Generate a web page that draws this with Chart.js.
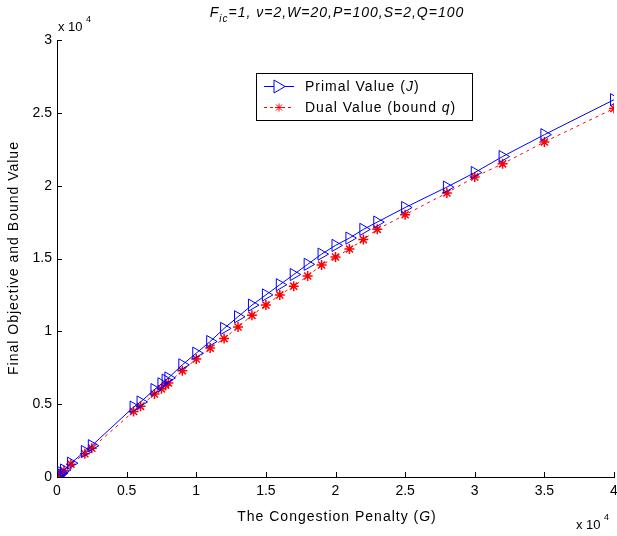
<!DOCTYPE html>
<html>
<head>
<meta charset="utf-8">
<script src="https://cdn.jsdelivr.net/npm/chart.js@4"></script>
<style>
  html, body { margin: 0; background: #fff; overflow: hidden; }
  #wrap { width: 622px; height: 536px; }
</style>
</head>
<body>
<div id="wrap"><canvas id="c"></canvas></div>
<script>
// congestion penalty G and the two final values
const penalty = [0, 100, 200, 300, 500, 1000, 2000, 2500, 5500, 6000, 7000, 7500, 7800, 8000, 9000,
  10000, 11000, 12000, 13000, 14000, 15000, 16000, 17000, 18000, 19000, 20000, 21000, 22000, 23000,
  25000, 28000, 30000, 32000, 35000, 40000];
const primalValue = [0, 100, 195, 290, 480, 950, 1750, 2150, 4800, 5150, 6000, 6400, 6650, 6800, 7700,
  8500, 9300, 10200, 11000, 11800, 12500, 13200, 13900, 14600, 15300, 15900, 16400, 17000, 17500,
  18500, 19900, 20900, 22000, 23500, 25900];
const dualValue = [0, 90, 180, 270, 450, 880, 1600, 1980, 4500, 4850, 5700, 6050, 6300, 6450, 7300,
  8100, 8850, 9500, 10300, 11100, 11800, 12500, 13100, 13800, 14550, 15100, 15650, 16300, 17000,
  18000, 19500, 20600, 21500, 23000, 25300];
const xTicks = [0, 5000, 10000, 15000, 20000, 25000, 30000, 35000, 40000];
const yTicks = [0, 5000, 10000, 15000, 20000, 25000, 30000];

const FONT = '"Liberation Sans", Arial, sans-serif';

function pts(ys) {
  return penalty.map((g, i) => ({ x: g, y: ys[i] }));
}

// draws inward ticks, exponent labels, titles and the legend
const extras = {
  id: 'extras',
  afterDraw(chart) {
    const ctx = chart.ctx;
    const xs = chart.scales.x, ys = chart.scales.y;
    const a = chart.chartArea;
    ctx.save();
    ctx.strokeStyle = '#000';
    ctx.lineWidth = 1;
    ctx.beginPath();
    xTicks.forEach(v => {
      const px = Math.round(xs.getPixelForValue(v)) + 0.5;
      ctx.moveTo(px, a.bottom); ctx.lineTo(px, a.bottom - 5);
    });
    yTicks.forEach(v => {
      const py = Math.round(ys.getPixelForValue(v)) + 0.5;
      ctx.moveTo(a.left, py); ctx.lineTo(a.left + 5, py);
    });
    ctx.stroke();

    ctx.fillStyle = '#000';
    ctx.textBaseline = 'alphabetic';
    ctx.textAlign = 'left';
    // exponents
    ctx.font = '13px ' + FONT;
    ctx.fillText('x 10', 58, 31);
    ctx.fillText('x 10', 576, 529);
    ctx.font = '9px ' + FONT;
    ctx.fillText('4', 86, 22);
    ctx.fillText('4', 604, 520);

    ctx.letterSpacing = '1px';
    function mixed(parts, px, py, size) {
      parts.forEach(([t, it, sz, dy]) => {
        ctx.font = (it ? 'italic ' : '') + (sz || size) + 'px ' + FONT;
        ctx.fillText(t, px, py + (dy || 0));
        px += ctx.measureText(t).width;
      });
      return px;
    }
    function width(parts, size) {
      let w = 0;
      parts.forEach(([t, it, sz]) => {
        ctx.font = (it ? 'italic ' : '') + (sz || size) + 'px ' + FONT;
        w += ctx.measureText(t).width;
      });
      return w;
    }

    // title
    const title = [['F', true], ['ic', true, 10, 5], ['=1, \u03bd=2,W=20,P=100,S=2,Q=100', true]];
    mixed(title, 337 - width(title, 14) / 2, 17, 14);

    // axis titles
    const xTitle = [['The Congestion Penalty (', false], ['G', true], [')', false]];
    mixed(xTitle, 337 - width(xTitle, 14) / 2, 521, 14);

    ctx.save();
    ctx.translate(18, 258);
    ctx.rotate(-Math.PI / 2);
    const yTitle = [['Final Objective and Bound Value', false]];
    mixed(yTitle, -width(yTitle, 14) / 2, 0, 14);
    ctx.restore();

    // legend
    ctx.fillStyle = '#fff';
    ctx.fillRect(256, 73, 216, 47);
    ctx.strokeStyle = '#000';
    ctx.strokeRect(256.5, 73.5, 216, 47);
    // primal entry
    ctx.strokeStyle = '#0000ff';
    ctx.beginPath();
    ctx.moveTo(264, 86.5); ctx.lineTo(294, 86.5);
    ctx.stroke();
    ctx.beginPath();
    ctx.moveTo(274, 80); ctx.lineTo(285, 86.5); ctx.lineTo(274, 93); ctx.closePath();
    ctx.fillStyle = '#fff';
    ctx.fill();
    ctx.stroke();
    // dual entry
    ctx.strokeStyle = '#ff0000';
    ctx.setLineDash([3, 3]);
    ctx.beginPath();
    ctx.moveTo(264, 107.5); ctx.lineTo(294, 107.5);
    ctx.stroke();
    ctx.setLineDash([]);
    ctx.beginPath();
    const cx = 279, cy = 107.5, r = 4;
    ctx.moveTo(cx - r, cy); ctx.lineTo(cx + r, cy);
    ctx.moveTo(cx, cy - r); ctx.lineTo(cx, cy + r);
    ctx.moveTo(cx - 3, cy - 3); ctx.lineTo(cx + 3, cy + 3);
    ctx.moveTo(cx - 3, cy + 3); ctx.lineTo(cx + 3, cy - 3);
    ctx.stroke();

    ctx.fillStyle = '#000';
    mixed([['Primal Value (', false], ['J', true], [')', false]], 305, 91, 14);
    mixed([['Dual Value (bound ', false], ['q', true], [')', false]], 305, 112, 14);
    ctx.restore();
  }
};

new Chart(document.getElementById('c'), {
  type: 'scatter',
  data: {
    datasets: [
      {
        label: 'Primal Value (J)',
        data: pts(primalValue),
        showLine: true,
        borderColor: '#0000ff',
        borderWidth: 1,
        pointStyle: 'triangle',
        rotation: 90,
        pointRadius: 7,
        pointBorderColor: '#0000ff',
        pointBackgroundColor: 'rgba(0,0,0,0)',
        pointBorderWidth: 1
      },
      {
        label: 'Dual Value (bound q)',
        data: pts(dualValue),
        showLine: true,
        borderColor: '#ff0000',
        borderWidth: 1,
        borderDash: [3, 4],
        pointStyle: 'star',
        pointRadius: 5,
        pointBorderColor: '#ff0000',
        pointBackgroundColor: '#ff0000',
        pointBorderWidth: 1.5
      }
    ]
  },
  options: {
    responsive: true,
    maintainAspectRatio: false,
    animation: false,
    layout: { padding: { top: 40, right: 3, left: 0, bottom: 0 } },
    plugins: { legend: { display: false }, tooltip: { enabled: false } },
    scales: {
      x: {
        type: 'linear',
        min: 0, max: 40000,
        afterBuildTicks: s => { s.ticks = xTicks.map(v => ({ value: v })); },
        afterFit: s => { s.height = 59; s.paddingLeft = 0; s.paddingRight = 0; },
        grid: { display: false, drawTicks: false },
        border: { display: true, color: '#000', width: 1 },
        ticks: {
          color: '#000', padding: 6, maxRotation: 0,
          font: { family: FONT, size: 14 },
          callback: v => v / 10000
        }
      },
      y: {
        type: 'linear',
        min: 0, max: 30000,
        afterBuildTicks: s => { s.ticks = yTicks.map(v => ({ value: v })); },
        afterFit: s => { s.width = 57; s.paddingTop = 0; s.paddingBottom = 0; },
        grid: { display: false, drawTicks: false },
        border: { display: true, color: '#000', width: 1 },
        ticks: {
          color: '#000', padding: 5,
          font: { family: FONT, size: 14 },
          callback: v => v / 10000
        }
      }
    }
  },
  plugins: [extras]
});
</script>
</body>
</html>
